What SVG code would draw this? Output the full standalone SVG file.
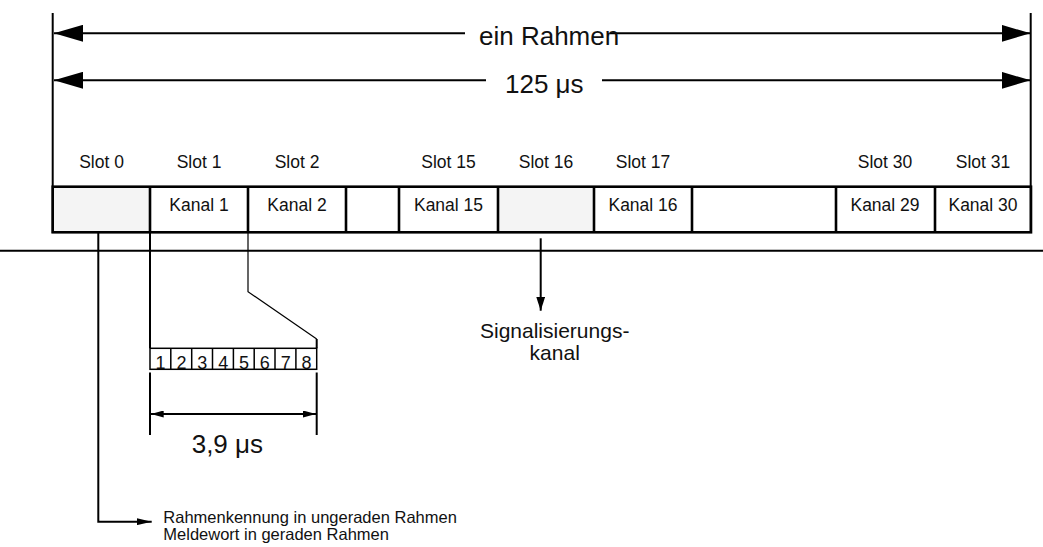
<svg xmlns="http://www.w3.org/2000/svg" width="1043" height="547" viewBox="0 0 1043 547">
  <style>
    .ln { stroke: #000; stroke-width: 2; fill: none; }
    .thin { stroke: #000; stroke-width: 1.2; fill: none; }
    .box { stroke: #000; stroke-width: 2.6; fill: none; }
    .cell { stroke: #000; stroke-width: 1.5; fill: none; }
    .t { font-family: "Liberation Sans", Arial, Helvetica, sans-serif; fill: #111; }
    .slot { font-size: 17.5px; text-anchor: middle; }
    .gray { fill: #f4f4f4; }
  </style>
  <defs>
    <marker id="bigHead" viewBox="0 0 29 17" refX="29" refY="8.5" markerWidth="29" markerHeight="17" markerUnits="userSpaceOnUse" orient="auto-start-reverse">
      <path d="M0,0 L29,8.5 L0,17 Z" fill="#000"/>
    </marker>
    <marker id="dimHead" viewBox="0 0 13 7" refX="13" refY="3.5" markerWidth="13" markerHeight="7" markerUnits="userSpaceOnUse" orient="auto-start-reverse">
      <path d="M0,0 L13,3.5 L0,7 Z" fill="#000"/>
    </marker>
    <marker id="downHead" viewBox="0 0 14 9" refX="14" refY="4.5" markerWidth="14" markerHeight="9" markerUnits="userSpaceOnUse" orient="auto">
      <path d="M0,0 L14,4.5 L0,9 Z" fill="#000"/>
    </marker>
    <marker id="sideHead" viewBox="0 0 15 7" refX="15" refY="3.5" markerWidth="15" markerHeight="7" markerUnits="userSpaceOnUse" orient="auto">
      <path d="M0,0 L15,3.5 L0,7 Z" fill="#000"/>
    </marker>
  </defs>

  <!-- frame boundaries and length dimensions -->
  <g id="frame-dimension">
    <line class="ln" x1="52.7" y1="13" x2="52.7" y2="233"/>
    <line class="ln" x1="1030.7" y1="13" x2="1030.7" y2="233"/>
    <line class="ln" x1="465" y1="33.3" x2="54" y2="33.3" marker-end="url(#bigHead)"/>
    <line class="ln" x1="610" y1="33.3" x2="1030.5" y2="33.3" marker-end="url(#bigHead)"/>
    <text class="t" x="479" y="44.5" font-size="26">ein Rahmen</text>
    <line class="ln" x1="486" y1="80.3" x2="54" y2="80.3" marker-end="url(#bigHead)"/>
    <line class="ln" x1="602" y1="80.3" x2="1030.5" y2="80.3" marker-end="url(#bigHead)"/>
    <text class="t" x="505" y="93.3" font-size="26">125 μs</text>
  </g>

  <!-- slot headings -->
  <g id="slot-labels" class="t slot">
    <text x="101.5" y="168.3">Slot 0</text>
    <text x="199" y="168.3">Slot 1</text>
    <text x="297" y="168.3">Slot 2</text>
    <text x="448.5" y="168.3">Slot 15</text>
    <text x="546" y="168.3">Slot 16</text>
    <text x="643" y="168.3">Slot 17</text>
    <text x="885" y="168.3">Slot 30</text>
    <text x="983" y="168.3">Slot 31</text>
  </g>

  <!-- frame slots -->
  <g id="slot-row">
    <rect class="gray" x="53" y="187" width="97" height="45"/>
    <rect class="gray" x="498" y="187" width="96" height="45"/>
    <rect class="box" x="52.7" y="186.7" width="978.3" height="45.6"/>
    <line class="box" x1="150" y1="186.7" x2="150" y2="232.3"/>
    <line class="box" x1="248" y1="186.7" x2="248" y2="232.3"/>
    <line class="box" x1="346" y1="186.7" x2="346" y2="232.3"/>
    <line class="box" x1="399" y1="186.7" x2="399" y2="232.3"/>
    <line class="box" x1="498" y1="186.7" x2="498" y2="232.3"/>
    <line class="box" x1="594" y1="186.7" x2="594" y2="232.3"/>
    <line class="box" x1="692" y1="186.7" x2="692" y2="232.3"/>
    <line class="box" x1="836" y1="186.7" x2="836" y2="232.3"/>
    <line class="box" x1="935" y1="186.7" x2="935" y2="232.3"/>
    <g class="t slot">
      <text x="199" y="210.7">Kanal 1</text>
      <text x="297" y="210.7">Kanal 2</text>
      <text x="448.5" y="210.7">Kanal 15</text>
      <text x="643" y="210.7">Kanal 16</text>
      <text x="885" y="210.7">Kanal 29</text>
      <text x="983" y="210.7">Kanal 30</text>
    </g>
  </g>

  <!-- separator below the frame -->
  <g id="separator">
    <line class="ln" x1="0" y1="250.7" x2="1043" y2="250.7"/>
  </g>

  <!-- the eight bits of one channel -->
  <g id="byte">
    <rect class="cell" x="150" y="348.3" width="166.7" height="21"/>
    <line class="cell" x1="170.8" y1="348.3" x2="170.8" y2="369.3"/>
    <line class="cell" x1="191.7" y1="348.3" x2="191.7" y2="369.3"/>
    <line class="cell" x1="212.5" y1="348.3" x2="212.5" y2="369.3"/>
    <line class="cell" x1="233.4" y1="348.3" x2="233.4" y2="369.3"/>
    <line class="cell" x1="254.2" y1="348.3" x2="254.2" y2="369.3"/>
    <line class="cell" x1="275" y1="348.3" x2="275" y2="369.3"/>
    <line class="cell" x1="295.9" y1="348.3" x2="295.9" y2="369.3"/>
    <g class="t" font-size="18" text-anchor="middle">
      <text x="160.6" y="369">1</text>
      <text x="181.5" y="369">2</text>
      <text x="202.3" y="369">3</text>
      <text x="223.2" y="369">4</text>
      <text x="244" y="369">5</text>
      <text x="264.8" y="369">6</text>
      <text x="285.7" y="369">7</text>
      <text x="306.5" y="369">8</text>
    </g>
  </g>

  <!-- bit duration -->
  <g id="bit-duration">
    <line class="ln" x1="150" y1="372.5" x2="150" y2="435"/>
    <line class="ln" x1="316.7" y1="372.5" x2="316.7" y2="435"/>
    <line class="ln" x1="150.7" y1="414" x2="316" y2="414" marker-start="url(#dimHead)" marker-end="url(#dimHead)"/>
    <text class="t" x="191.7" y="452.7" font-size="26">3,9 μs</text>
  </g>

  <!-- annotations -->
  <g id="signalling-label" class="t" font-size="21" text-anchor="middle">
    <text x="554.7" y="338.3">Signalisierungs-</text>
    <text x="554.7" y="360">kanal</text>
  </g>
  <g id="frame-word-label" class="t" font-size="16.5">
    <text x="163.3" y="522.7">Rahmenkennung in ungeraden Rahmen</text>
    <text x="163.3" y="539.5">Meldewort in geraden Rahmen</text>
  </g>

  <!-- connectors -->
  <g id="connectors">
    <line class="ln" x1="150" y1="232.3" x2="150" y2="348.3"/>
    <polyline class="thin" points="248,232.3 248,291.7 316.7,339"/>
    <line class="ln" x1="316.7" y1="339" x2="316.7" y2="348.3"/>
    <line class="ln" x1="540.7" y1="238.3" x2="540.7" y2="310.7" marker-end="url(#downHead)"/>
    <polyline class="ln" points="98.3,232.3 98.3,521.7 151.7,521.7" marker-end="url(#sideHead)"/>
  </g>
</svg>
